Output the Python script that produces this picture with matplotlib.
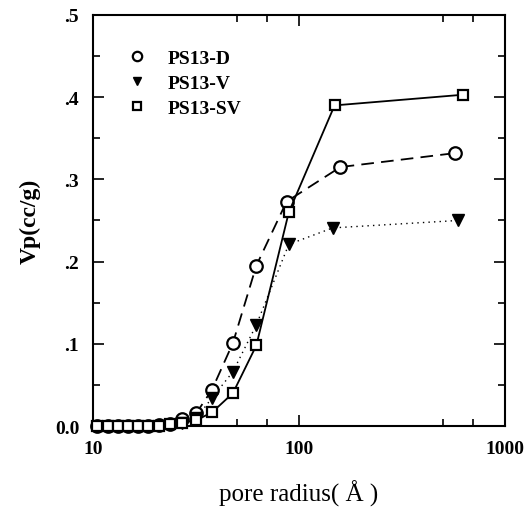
import matplotlib
matplotlib.use("Agg")
import matplotlib.pyplot as plt
from matplotlib.ticker import FixedLocator, NullFormatter, FixedFormatter

# Data
d_x = [10.5, 11.8, 13.2, 14.8, 16.5, 18.5, 20.9, 23.6, 27.2, 31.8, 37.8, 47.8, 62.1, 87.1, 159, 575]
d_y = [0.0, 0.0, 0.0, 0.0, 0.0, 0.0, 0.001, 0.003, 0.009, 0.016, 0.044, 0.101, 0.195, 0.273, 0.315, 0.332]

v_x = [27.2, 31.8, 37.8, 47.8, 62.1, 89.3, 146, 590]
v_y = [0.004, 0.010, 0.034, 0.066, 0.123, 0.221, 0.241, 0.250]

sv_x = [10.5, 11.8, 13.2, 14.8, 16.5, 18.5, 20.9, 23.6, 27.2, 31.8, 38.0, 47.8, 62.1, 89.3, 149, 628]
sv_y = [0.0, 0.0, 0.0, 0.0, 0.0, 0.0, 0.0, 0.002, 0.004, 0.007, 0.017, 0.040, 0.098, 0.260, 0.390, 0.403]

labels = ["PS13-D", "PS13-V", "PS13-SV"]
y_major = [0.0, 0.1, 0.2, 0.3, 0.4, 0.5]
y_labels = ["0.0", ".1", ".2", ".3", ".4", ".5"]
x_major = [10, 100, 1000]
x_labels = ["10", "100", "1000"]

plt.rcParams['font.family'] = ['Liberation Serif', 'DejaVu Serif']

fig = plt.figure(figsize=(5.3, 5.1), dpi=100)
ax = fig.add_axes([0.1755, 0.1627, 0.777, 0.806])

ax.plot(d_x, d_y, color='black', lw=1.3, dashes=(7, 4), marker='o', ms=9,
        mfc='white', mec='black', mew=1.6, label=labels[0], clip_on=False, zorder=3)
ax.plot(v_x, v_y, color='black', lw=1.0, linestyle=(0, (1, 3)), marker='v', ms=8.5,
        mfc='black', mec='black', label=labels[1], clip_on=False, zorder=3)
ax.plot(sv_x, sv_y, color='black', lw=1.3, linestyle='-', marker='s', ms=7.5,
        mfc='white', mec='black', mew=1.6, label=labels[2], clip_on=False, zorder=3)

ax.set_xscale('log')
ax.set_xlim(10, 1000)
ax.set_ylim(0, 0.5)

ax.xaxis.set_major_locator(FixedLocator(x_major))
ax.xaxis.set_major_formatter(FixedFormatter(x_labels))
ax.xaxis.set_minor_locator(FixedLocator([50, 70, 500, 700]))
ax.xaxis.set_minor_formatter(NullFormatter())
ax.yaxis.set_major_locator(FixedLocator(y_major))
ax.yaxis.set_major_formatter(FixedFormatter(y_labels))
ax.yaxis.set_minor_locator(FixedLocator([0.05, 0.15, 0.25, 0.35, 0.45]))

ax.tick_params(which='both', direction='in', top=True, right=True, width=1.2)
ax.tick_params(which='major', length=8, labelsize=14)
ax.tick_params(axis='x', which='major', pad=10)
ax.tick_params(axis='y', which='major', pad=10)
ax.tick_params(which='minor', length=5)
for lab in ax.get_xticklabels() + ax.get_yticklabels():
    lab.set_fontweight('bold')
for s in ax.spines.values():
    s.set_linewidth(1.5)

ax.set_ylabel("Vp(cc/g)", fontsize=17, fontweight='bold', labelpad=10)
ax.set_xlabel("pore radius( Å )", fontsize=18, labelpad=16)

leg = ax.legend(loc='upper left', bbox_to_anchor=(0.04, 0.96), frameon=False,
                markerscale=0.75, handlelength=1.0, handletextpad=1.1,
                labelspacing=0.4, prop={'size': 14, 'weight': 'bold'})
for h in leg.legend_handles:
    h.set_linestyle('none')

fig.savefig("out.png", dpi=100)
